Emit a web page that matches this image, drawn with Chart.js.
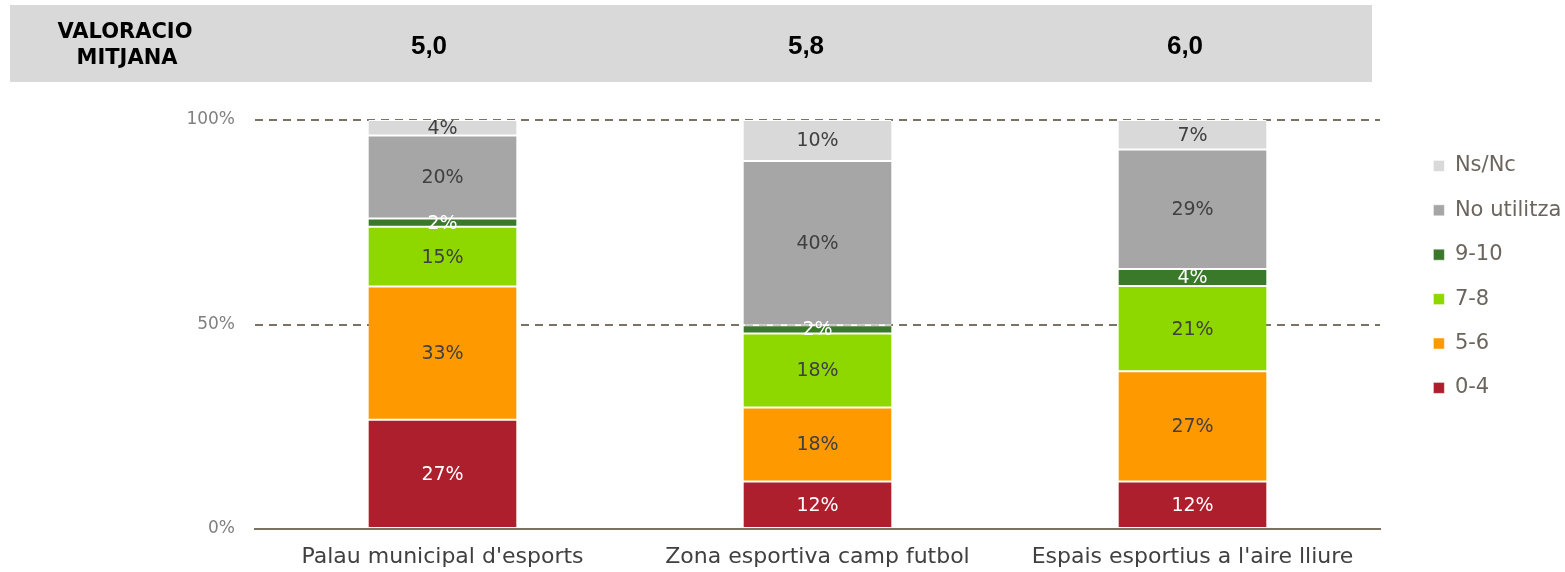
<!DOCTYPE html>
<html>
<head>
<meta charset="utf-8">
<script src="https://cdn.jsdelivr.net/npm/chart.js@4.4.0/dist/chart.umd.min.js"></script>
<style>
html,body{margin:0;padding:0;background:#fff;}
#wrap{position:relative;width:1565px;height:572px;}
</style>
</head>
<body>
<div id="wrap"><canvas id="graph_data" width="1565" height="572"></canvas></div>
<script>
var categories = ["Palau municipal d'esports", "Zona esportiva camp futbol", "Espais esportius a l'aire lliure"];
var meanScores = [5.0, 5.8, 6.0];
var seriesNames = ['0-4', '5-6', '7-8', '9-10', 'No utilitza', 'Ns/Nc'];
var score04 = [26.7, 11.6, 11.6];
var score56 = [32.6, 18.1, 27.0];
var score78 = [14.6, 18.1, 20.8];
var score910 = [2.0, 2.0, 4.2];
var noUtilitza = [20.3, 40.2, 29.2];
var nsNc = [3.8, 10.0, 7.2];
var yTicks = [0, 50, 100];

var seriesColors = ['#ae1f2e', '#ff9900', '#8ed800', '#3a782a', '#a6a6a6', '#d9d9d9'];
var labelColors = ['#ffffff', '#404040', '#404040', '#ffffff', '#404040', '#404040'];
var bannerX = [429, 806, 1185];
var FONT = '"DejaVu Sans", sans-serif';

// % labels inside each segment
var segmentLabels = {
    id: 'segmentLabels',
    afterDatasetsDraw: function(chart){
        var ctx = chart.ctx;
        chart.data.datasets.forEach(function(ds, i){
            var meta = chart.getDatasetMeta(i);
            meta.data.forEach(function(bar, j){
                var v = ds.data[j];
                ctx.save();
                ctx.fillStyle = labelColors[i];
                ctx.font = '19px ' + FONT;
                ctx.textAlign = 'center';
                ctx.textBaseline = 'middle';
                ctx.fillText(Math.round(v) + '%', bar.x, (bar.y + bar.base) / 2 + 1);
                ctx.restore();
            });
        });
    }
};

// grey band with the average scores
var banner = {
    id: 'banner',
    beforeDraw: function(chart){
        var ctx = chart.ctx;
        ctx.save();
        ctx.fillStyle = '#d9d9d9';
        ctx.fillRect(10, 5, 1362, 77);
        ctx.fillStyle = '#000000';
        ctx.textAlign = 'center';
        ctx.textBaseline = 'middle';
        ctx.font = 'bold 21px "DejaVu Sans", sans-serif';
        ctx.fillText('VALORACIO', 125, 33);
        ctx.fillText('MITJANA', 127, 59);
        ctx.font = 'bold 26px "Liberation Sans", sans-serif';
        meanScores.forEach(function(m, i){
            ctx.fillText(m.toFixed(1).replace('.', ','), bannerX[i], 47);
        });
        ctx.restore();
    }
};

function graph(){
    var all = [score04, score56, score78, score910, noUtilitza, nsNc];
    var datasets = all.map(function(values, i){
        return {
            label: seriesNames[i],
            data: values,
            backgroundColor: seriesColors[i],
            borderColor: '#ffffff',
            borderWidth: {top: 1, bottom: 1, left: 0, right: 0},
            borderSkipped: false,
            categoryPercentage: 1,
            barPercentage: 0.395
        };
    });

    var config = {
        type: 'bar',
        data: {labels: categories, datasets: datasets},
        options: {
            responsive: false,
            animation: false,
            devicePixelRatio: 1,
            layout: {padding: {top: 120, left: 0, right: 0, bottom: 0}},
            plugins: {
                tooltip: {enabled: false},
                legend: {
                    position: 'right',
                    align: 'start',
                    reverse: true,
                    maxWidth: 155,
                    title: {display: true, text: '', font: {size: 10}, padding: {top: 0, bottom: 0}},
                    labels: {
                        boxWidth: 11,
                        boxHeight: 11,
                        padding: 23.4,
                        color: '#6b655d',
                        font: {family: FONT, size: 21}
                    }
                }
            },
            scales: {
                x: {
                    stacked: true,
                    afterFit: function(s){ s.height = 43; },
                    grid: {display: false},
                    border: {color: '#7a7262', width: 2},
                    ticks: {color: '#404040', font: {family: FONT, size: 22}, padding: 7}
                },
                y: {
                    stacked: true,
                    min: 0,
                    max: 100,
                    afterBuildTicks: function(s){ s.ticks = yTicks.map(function(v){ return {value: v}; }); },
                    afterFit: function(s){ s.width = 255; },
                    border: {display: false, dash: [8, 6]},
                    grid: {
                        color: function(c){ return c.tick && c.tick.value === 0 ? 'rgba(0,0,0,0)' : '#7a7262'; },
                        lineWidth: 2,
                        drawTicks: false
                    },
                    ticks: {
                        color: '#808080',
                        font: {family: FONT, size: 17},
                        padding: 20,
                        callback: function(v){ return v + '%'; }
                    }
                },
                gap: {
                    type: 'linear',
                    position: 'right',
                    grid: {display: false},
                    border: {display: false},
                    ticks: {display: false},
                    afterFit: function(s){ s.width = 30; }
                }
            }
        },
        plugins: [banner, segmentLabels]
    };

    new Chart(document.getElementById('graph_data'), config);
}

graph();
</script>
</body>
</html>
